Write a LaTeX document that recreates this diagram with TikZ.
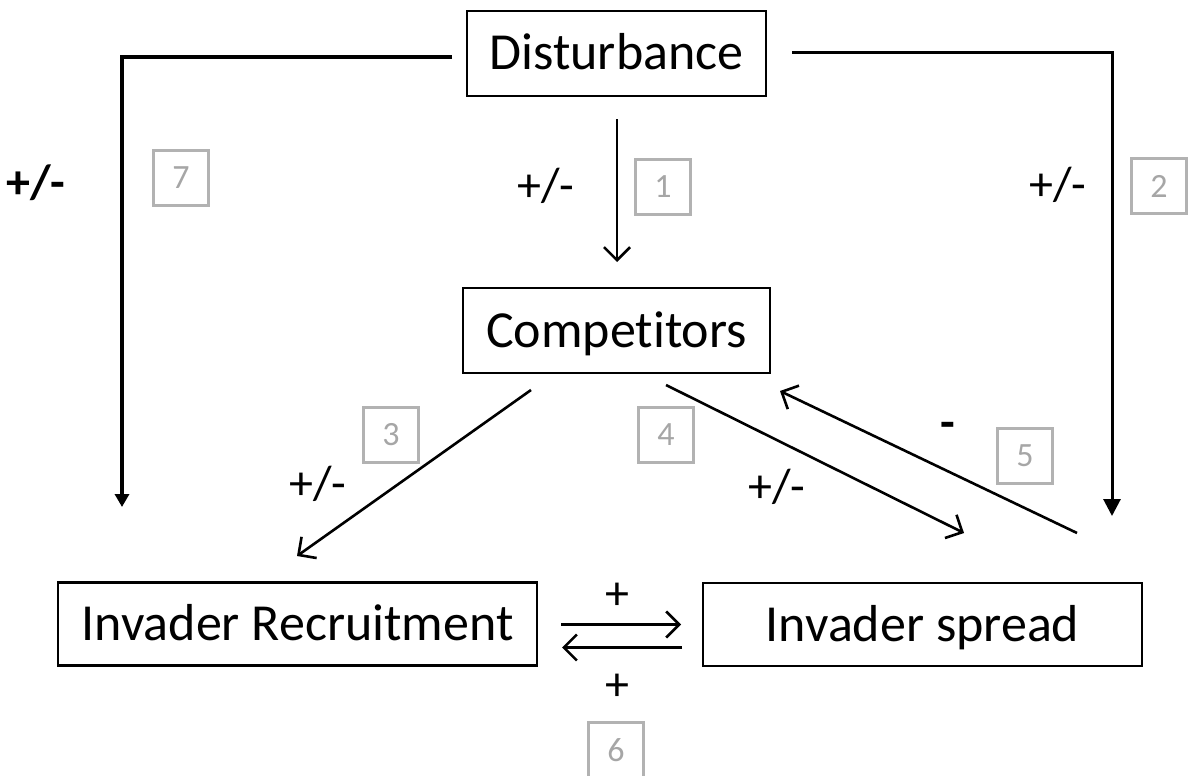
\documentclass[tikz,border=0pt]{standalone}
\usepackage{fontspec}
\setmainfont[Ligatures=NoCommon]{Carlito}
\usetikzlibrary{arrows.meta}
\begin{document}
\begin{tikzpicture}[x=1pt,y=-1pt,
  box/.style={draw=black,line width=2.5pt,inner sep=0pt,text height=36pt,text depth=3pt,font=\fontsize{52}{60}\selectfont},
  numbox/.style={draw=black!30,line width=2.5pt,inner sep=0pt,minimum width=55pt,minimum height=55pt,text=black!35,font=\fontsize{34}{38}\selectfont},
  sign/.style={font=\fontsize{48}{52}\selectfont},
  conn/.style={line width=2.6pt,-{Straight Barb[length=13pt,width=26pt,line width=2.6pt]}},
]
\useasboundingbox (0,0) rectangle (1195,776);
% boxes
\node[box,minimum width=299pt,minimum height=85pt] (dist) at (616.5,53.5) {Disturbance};
\node[box,minimum width=307pt,minimum height=85pt] (comp) at (616.5,330.5) {Competitors};
\node[box,minimum width=479pt,minimum height=83pt] (rec) at (297.5,624) {Invader Recruitment};
\node[box,minimum width=439pt,minimum height=83pt] (spr) at (922.5,624.5) {Invader spread};
% number boxes
\node[numbox] (n7) at (181,178) {7};
\node[numbox] (n1) at (663,187) {1};
\node[numbox] (n2) at (1159,186) {2};
\node[numbox] (n3) at (391,435) {3};
\node[numbox] (n4) at (666,435) {4};
\node[numbox] (n5) at (1025,456) {5};
\node[numbox] (n6) at (616,750) {6};
% sign labels
\node[sign,font=\bfseries\fontsize{48}{52}\selectfont] (s7) at (36,183) {+/-};
\node[sign] (s1) at (546,186) {+/-};
\node[sign] (s2) at (1058,185) {+/-};
\node[sign] (s3) at (318,484) {+/-};
\node[sign] (s4) at (777,487) {+/-};
\node[sign,font=\bfseries\fontsize{48}{52}\selectfont] (s5) at (948,430) {-};
\node[sign] (s6a) at (617,596) {+};
\node[sign] (s6b) at (617,687) {+};
% coordinates
\coordinate (a1s) at (617,119);
\coordinate (a1e) at (617,262);
\coordinate (l0) at (452,57);
\coordinate (l1) at (122,57);
\coordinate (l2) at (122,507);
\coordinate (r0) at (792,53);
\coordinate (r1) at (1112,53);
\coordinate (r2) at (1112,516);
\coordinate (a3s) at (531,390);
\coordinate (a3e) at (297,556);
\coordinate (a4s) at (666,385);
\coordinate (a4e) at (964,533);
\coordinate (a5s) at (1077,533);
\coordinate (a5e) at (780,391);
\coordinate (a6s) at (561,624.5);
\coordinate (a6e) at (681,624.5);
\coordinate (a6bs) at (682,647.5);
\coordinate (a6be) at (562,647.5);
% connectors
\draw[conn] (a1s) -- (a1e);
\draw[line width=4pt,-{Triangle[length=13pt,width=14pt]}] (l0) -- (l1) -- (l2);
\draw[line width=3pt,-{Triangle[length=17pt,width=17pt]}] (r0) -- (r1) -- (r2);
\draw[conn] (a3s) -- (a3e);
\draw[conn] (a4s) -- (a4e);
\draw[conn] (a5s) -- (a5e);
\draw[conn] (a6s) -- (a6e);
\draw[conn] (a6bs) -- (a6be);
\end{tikzpicture}
\end{document}
